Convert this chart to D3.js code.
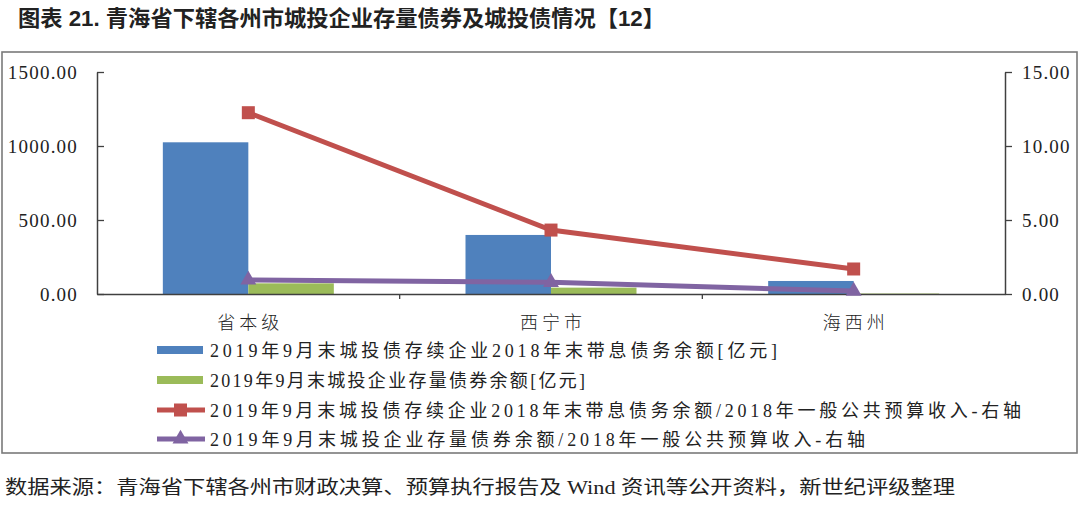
<!DOCTYPE html>
<html><head><meta charset="utf-8">
<script src="https://cdn.jsdelivr.net/npm/d3@7"></script>
<style>
body{margin:0;background:#fff;}
svg{display:block;}
text{font-family:"Liberation Serif","Times New Roman","Noto Sans CJK SC",serif;fill:#222;}
</style></head><body>
<script>
const categories = ["省本级","西宁市","海西州"];
const debtBalance = [1025, 399, 88];          // 带息债务余额 [亿元] (left)
const bondBalance = [72, 43, 3];              // 存量债券余额 [亿元] (left)
const debtRatio = [12.25, 4.32, 1.69];        // 带息债务/一般公共预算收入 (right)
const bondRatio = [0.95, 0.79, 0.2];          // 存量债券/一般公共预算收入 (right)
const leftTicks = [0, 500, 1000, 1500];
const rightTicks = [0, 5, 10, 15];
const legendLabels = [
  "2019年9月末城投债存续企业2018年末带息债务余额[亿元]",
  "2019年9月末城投企业存量债券余额[亿元]",
  "2019年9月末城投债存续企业2018年末带息债务余额/2018年一般公共预算收入-右轴",
  "2019年9月末城投企业存量债券余额/2018年一般公共预算收入-右轴"
];
const titleText = "图表 21. 青海省下辖各州市城投企业存量债券及城投债情况【12】";
const sourceText = "数据来源：青海省下辖各州市财政决算、预算执行报告及 Wind 资讯等公开资料，新世纪评级整理";

const colors = {blue:"#4F81BD", green:"#9BBB59", red:"#C0504D", purple:"#8064A2"};
const W = 1080, H = 506;
const svg = d3.select("body").append("svg").attr("width", W).attr("height", H);

// title
svg.append("text").attr("x", 18).attr("y", 26)
  .attr("font-size", 22).attr("font-weight", "bold")
  .attr("textLength", 647).attr("lengthAdjust", "spacingAndGlyphs")
  .style("font-family", "\"Liberation Sans\",\"Noto Sans CJK SC\",sans-serif")
  .text(titleText);

// frame
svg.append("rect").attr("x", 2).attr("y", 52).attr("width", 1075).attr("height", 401)
  .attr("fill", "none").attr("stroke", "#7a7a7a").attr("stroke-width", 1.6);

const x0 = d3.scaleBand().domain(categories).range([97, 1005]).padding(0);
const x1 = d3.scaleBand().domain(["debt","bond"]).range([0, x0.bandwidth()]).paddingInner(0).paddingOuter(0.77);
const yL = d3.scaleLinear().domain([0, 1500]).range([294, 72]);
const yR = d3.scaleLinear().domain([0, 15]).range([294, 72]);

// bars
const barSeries = [{key:"debt", vals:debtBalance, color:colors.blue},{key:"bond", vals:bondBalance, color:colors.green}];
barSeries.forEach(s => {
  svg.append("g").selectAll("rect").data(categories).join("rect")
    .attr("x", (c) => x0(c) + x1(s.key))
    .attr("width", x1.bandwidth())
    .attr("y", (c,i) => yL(s.vals[i]))
    .attr("height", (c,i) => yL(0) - yL(s.vals[i]))
    .attr("fill", s.color);
});

// axes
const axisColor = "#404040";
const gL = svg.append("g").attr("transform", "translate(97,0)")
  .call(d3.axisLeft(yL).tickValues(leftTicks).tickFormat(d3.format(".2f")).tickSizeInner(-7).tickSizeOuter(0).tickPadding(19));
const gR = svg.append("g").attr("transform", "translate(1005,0)")
  .call(d3.axisRight(yR).tickValues(rightTicks).tickFormat(d3.format(".2f")).tickSizeInner(7).tickSizeOuter(0).tickPadding(10));
const gX = svg.append("g").attr("transform", "translate(0,294)")
  .call(d3.axisBottom(x0).tickSizeInner(0).tickSizeOuter(0).tickFormat(""));
// category boundary ticks
gX.selectAll("line.bt").data(categories.slice(1)).join("line").attr("class","bt")
  .attr("x1", c => x0(c)).attr("x2", c => x0(c)).attr("y1", 0).attr("y2", 5)
  .attr("stroke", axisColor).attr("stroke-width", 1.3);
[gL, gR, gX].forEach(g => {
  g.selectAll("path.domain").attr("stroke", axisColor).attr("stroke-width", 1.5);
  g.selectAll(".tick line").attr("stroke", axisColor).attr("stroke-width", 1.3);
  g.selectAll(".tick text").attr("font-size", 19).attr("fill", "#222")
    .style("letter-spacing", "1.2px")
    .style("font-family", "\"Liberation Serif\",serif");
});
gR.selectAll(".tick text").attr("text-anchor", "start");

// category labels
svg.append("g").selectAll("text").data(categories).join("text")
  .attr("x", c => x0(c) + x0.bandwidth()/2 + 2)
  .attr("y", 329).attr("text-anchor", "middle")
  .attr("font-size", 18).style("letter-spacing", "4px")
  .style("font-family", "\"Noto Sans CJK SC\",sans-serif").attr("font-weight", 300)
  .attr("fill", "#333")
  .text(c => c);

// lines
const cx = c => x0(c) + x0.bandwidth()/2;
const line = d3.line().x(d => cx(d.c)).y(d => yR(d.v));
const redData = categories.map((c,i) => ({c, v: debtRatio[i]}));
const purpleData = categories.map((c,i) => ({c, v: bondRatio[i]}));
svg.append("path").datum(purpleData).attr("d", line).attr("fill","none")
  .attr("stroke", colors.purple).attr("stroke-width", 5);
svg.append("g").selectAll("path").data(purpleData).join("path")
  .attr("d", d3.symbol(d3.symbolTriangle, 110))
  .attr("transform", d => `translate(${cx(d.c)},${yR(d.v)})`)
  .attr("fill", colors.purple);
svg.append("path").datum(redData).attr("d", line).attr("fill","none")
  .attr("stroke", colors.red).attr("stroke-width", 5);
svg.append("g").selectAll("rect").data(redData).join("rect")
  .attr("x", d => cx(d.c) - 6.5).attr("y", d => yR(d.v) - 6.5)
  .attr("width", 13).attr("height", 13).attr("fill", colors.red);

// legend
const legY = [350, 380, 410, 439];
const legEnd = [777, 585, 1021, 865];
const legTypes = ["bar","bar","line","line"];
const legColors = [colors.blue, colors.green, colors.red, colors.purple];
const leg = svg.append("g");
legendLabels.forEach((t, i) => {
  const y = legY[i];
  if (legTypes[i] === "bar") {
    leg.append("rect").attr("x", 157).attr("y", y - 4).attr("width", 46).attr("height", 8).attr("fill", legColors[i]);
  } else {
    leg.append("line").attr("x1", 157).attr("x2", 205).attr("y1", y).attr("y2", y)
      .attr("stroke", legColors[i]).attr("stroke-width", 5);
    if (i === 2) {
      leg.append("rect").attr("x", 174).attr("y", y - 6.5).attr("width", 13).attr("height", 13).attr("fill", legColors[i]);
    } else {
      leg.append("path").attr("d", d3.symbol(d3.symbolTriangle, 110)).attr("transform", `translate(180.5,${y})`).attr("fill", legColors[i]);
    }
  }
  leg.append("text").attr("x", 210).attr("y", y + 7)
    .attr("font-size", 18)
    .attr("textLength", legEnd[i] - 210).attr("lengthAdjust", "spacing")
    .style("font-family", "\"Liberation Serif\",\"Noto Sans CJK SC\",serif")
    .text(t);
});

// source
svg.append("text").attr("x", 5).attr("y", 494)
  .attr("font-size", 19)
  .attr("textLength", 950).attr("lengthAdjust", "spacingAndGlyphs")
  .style("font-family", "\"Liberation Serif\",\"Noto Sans CJK SC\",serif")
  .text(sourceText);
</script>
</body></html>
